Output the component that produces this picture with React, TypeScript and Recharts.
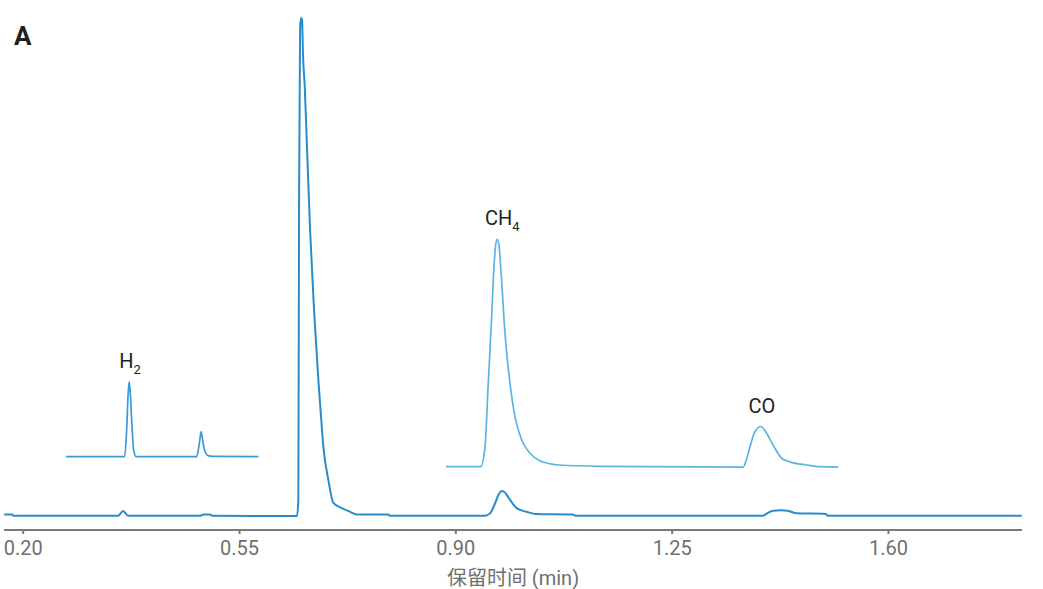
import { LineChart, Line, XAxis, YAxis, ReferenceDot, Label } from "recharts";

// retention time (min), detector signal (arbitrary units)
const mainTrace: [number, number][] = [
  [0.1693, 3.0], [0.1822, 3.0], [0.1838, 2.75], [0.3536, 2.75], [0.3617, 3.65],
  [0.3698, 2.75], [0.4879, 2.75], [0.4911, 3.0], [0.5024, 3.0], [0.5057, 2.75],
  [0.6431, 2.7], [0.6452, 5.8], [0.6464, 63.5], [0.648, 96.2], [0.6496, 98.5],
  [0.6512, 98.1], [0.6528, 91.3], [0.6556, 85.2], [0.6588, 75.0], [0.6642, 57.7],
  [0.6706, 42.3], [0.6776, 28.8], [0.6815, 22.5], [0.6857, 16.0], [0.6938, 9.6],
  [0.7019, 5.2], [0.7155, 4.2], [0.7289, 3.5], [0.7397, 3.0], [0.7903, 3.0],
  [0.7935, 2.75], [0.9472, 2.75], [0.9553, 3.2], [0.9634, 5.1], [0.9687, 6.7],
  [0.9742, 7.5], [0.9795, 7.2], [0.9876, 5.8], [0.9985, 4.2], [1.0146, 3.5],
  [1.028, 3.1], [1.0895, 3.0], [1.0928, 2.75], [1.3968, 2.75], [1.4049, 3.3],
  [1.413, 3.7], [1.4259, 3.8], [1.4372, 3.7], [1.4513, 3.2], [1.4987, 3.1],
  [1.5019, 2.75], [1.8157, 2.75],
];

// enlarged H2 window
const insetH2: [number, number][] = [
  [0.2695, 14.1], [0.3642, 14.1], [0.3674, 19.2], [0.3698, 26.0], [0.3714, 28.5],
  [0.373, 26.9], [0.3758, 20.6], [0.3787, 15.4], [0.3828, 14.1], [0.4806, 14.1],
  [0.4846, 16.3], [0.4879, 18.9], [0.4911, 16.7], [0.4944, 15.0], [0.4992, 14.3],
  [0.5057, 14.15], [0.5806, 14.1],
];

// enlarged CH4 / CO window
const insetCH4CO: [number, number][] = [
  [0.8841, 12.17], [0.9402, 12.17], [0.9472, 16.0], [0.9525, 28.3], [0.958, 41.0],
  [0.9617, 50.6], [0.9645, 54.8], [0.9671, 55.9], [0.9698, 54.8], [0.9726, 50.6],
  [0.9795, 37.9], [0.9876, 28.3], [0.9957, 21.8], [1.0066, 17.3], [1.02, 14.75],
  [1.0361, 13.3], [1.0658, 12.5], [1.1332, 12.25], [1.3649, 12.1], [1.3709, 13.8],
  [1.3758, 16.0], [1.3839, 18.9], [1.3936, 19.9], [1.4028, 18.6], [1.4135, 16.3],
  [1.4271, 13.8], [1.4405, 13.1], [1.4675, 12.5], [1.489, 12.17], [1.5186, 12.1],
];

const xTicks = [0.2, 0.55, 0.9, 1.25, 1.6];

const peakLabels = [
  { name: "H", sub: "2", t: 0.3714, v: 28.5, dx: 1 },
  { name: "CH", sub: "4", t: 0.9671, v: 55.9, dx: 5 },
  { name: "CO", sub: "", t: 1.3936, v: 19.9, dx: 1 },
];

const toRows = (pts: [number, number][]) => pts.map(([t, v]) => ({ t, v }));

const FONT = "Roboto, 'Noto Sans CJK SC', sans-serif";

function PeakLabel({ viewBox, name, sub, dx }: any) {
  const x = viewBox.x + viewBox.width / 2 + dx;
  const y = viewBox.y + viewBox.height / 2 - 14;
  return (
    <text x={x} y={y} textAnchor="middle" fill="#222" fontSize={20} fontFamily={FONT}>
      {name}
      {sub && (
        <tspan fontSize={13} dy={6}>
          {sub}
        </tspan>
      )}
    </text>
  );
}

export default function App() {
  return (
    <div style={{ position: "absolute", left: 0, top: 0, width: 1043, height: 589, background: "#fff" }}>
      <div
        style={{
          position: "absolute",
          left: 14,
          top: 21,
          fontFamily: FONT,
          fontWeight: 700,
          fontSize: 26,
          lineHeight: "30px",
          color: "#1f1f1f",
          zIndex: 2,
        }}
      >
        A
      </div>
      <LineChart width={1043} height={589} margin={{ top: 10, right: 21, bottom: 1, left: 4 }}>
        <XAxis
          type="number"
          dataKey="t"
          domain={[0.169, 1.816]}
          allowDataOverflow
          ticks={xTicks}
          tickFormatter={(v: number) => v.toFixed(2)}
          height={58}
          tickSize={4}
          tickMargin={7}
          stroke="#7a7a7a"
          strokeWidth={2}
          tick={{ fill: "#6f6f6f", fontSize: 20, fontFamily: FONT }}
        >
          <Label
            value="保留时间 (min)"
            position="insideBottom"
            offset={3}
            fill="#6f6f6f"
            fontSize={20}
            fontFamily={FONT}
          />
        </XAxis>
        <YAxis type="number" domain={[0, 100]} hide />
        <Line
          data={toRows(mainTrace)}
          dataKey="v"
          type="monotone"
          stroke="#2a8bcb"
          strokeWidth={2}
          dot={false}
          isAnimationActive={false}
        />
        <Line
          data={toRows(insetH2)}
          dataKey="v"
          type="monotone"
          stroke="#3a9ad6"
          strokeWidth={1.7}
          dot={false}
          isAnimationActive={false}
        />
        <Line
          data={toRows(insetCH4CO)}
          dataKey="v"
          type="monotone"
          stroke="#5cb4e2"
          strokeWidth={1.7}
          dot={false}
          isAnimationActive={false}
        />
        {peakLabels.map((p) => (
          <ReferenceDot
            key={p.name}
            x={p.t}
            y={p.v}
            r={0}
            stroke="none"
            fill="none"
            label={<PeakLabel name={p.name} sub={p.sub} dx={p.dx} />}
          />
        ))}
      </LineChart>
    </div>
  );
}
